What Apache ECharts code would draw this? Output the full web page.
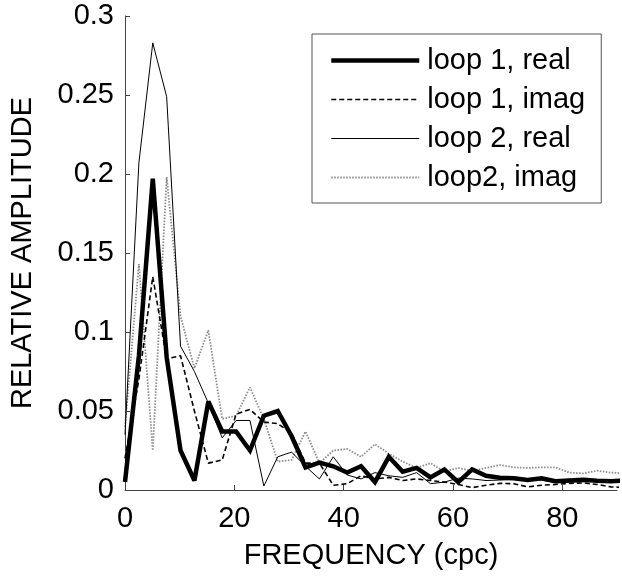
<!DOCTYPE html>
<html>
<head>
<meta charset="utf-8">
<script src="https://cdn.jsdelivr.net/npm/echarts@6/dist/echarts.min.js"></script>
<style>
  html, body { margin: 0; padding: 0; background: #fff; }
  #chart { width: 622px; height: 578px; }
</style>
</head>
<body>
<div id="chart"></div>
<script>
// Frequencies (cpc) of the sampled harmonics
const freq = [0, 2.54, 5.08, 7.62, 10.16, 12.7, 15.24, 17.78, 20.32, 22.86,
  25.4, 27.94, 30.48, 33.02, 35.56, 38.1, 40.64, 43.18, 45.72, 48.26,
  50.8, 53.34, 55.88, 58.42, 60.96, 63.5, 66.04, 68.58, 71.12, 73.66,
  76.2, 78.74, 81.28, 83.82, 86.36, 88.9, 91.44];

const loop1Real = [0.005, 0.085, 0.197, 0.084, 0.025, 0.006, 0.056, 0.037, 0.037, 0.025,
  0.047, 0.050, 0.034, 0.0143, 0.0173, 0.015, 0.011, 0.015, 0.005, 0.021,
  0.0116, 0.014, 0.008, 0.013, 0.005, 0.013, 0.009, 0.0078, 0.0075, 0.0063,
  0.0074, 0.0055, 0.006, 0.0065, 0.0059, 0.0055, 0.006];

const loop1Imag = [0.02, 0.07, 0.135, 0.083, 0.085, 0.05, 0.017, 0.019, 0.048, 0.051,
  0.043, 0.042, 0.036, 0.017, 0.017, 0.003, 0.004, 0.009, 0.007, 0.008,
  0.006, 0.007, 0.006, 0.005, 0.0035, 0.0015, 0.003, 0.0042, 0.004, 0.002,
  0.003, 0.0035, 0.0042, 0.0045, 0.0035, 0.002, 0.0015];

const loop2Real = [0.035, 0.207, 0.283, 0.249, 0.091, 0.075, 0.055, 0.033, 0.044, 0.044,
  0.0025, 0.021, 0.024, 0.015, 0.007, 0.021, 0.0095, 0.007, 0.011, 0.009,
  0.008, 0.011, 0.004, 0.005, 0.0075, 0.007, 0.006, 0.0063, 0.0068, 0.0065,
  0.0063, 0.0046, 0.005, 0.0053, 0.0057, 0.0055, 0.0053];

const loop2Imag = [0.04, 0.143, 0.025, 0.198, 0.11, 0.077, 0.101, 0.045, 0.047, 0.065,
  0.045, 0.018, 0.019, 0.037, 0.017, 0.025, 0.026, 0.021, 0.029, 0.023,
  0.018, 0.014, 0.017, 0.0116, 0.014, 0.012, 0.014, 0.0158, 0.0143, 0.014,
  0.0143, 0.0143, 0.011, 0.0105, 0.0122, 0.011, 0.0105];

const seriesNames = ['loop 1, real', 'loop 1, imag', 'loop 2, real', 'loop2, imag'];
const xTicks = [0, 20, 40, 60, 80];
const yTicks = [0, 0.05, 0.1, 0.15, 0.2, 0.25, 0.3];

const pairs = vals => vals.map((v, i) => [freq[i], v]);
const FONT = 'Liberation Sans, Arial, Helvetica, sans-serif';

const styles = [
  { color: '#000', width: 4.5, type: 'solid', join: 'miter', miterLimit: 3 },
  { color: '#000', width: 1.6, type: [5, 3] },
  { color: '#000', width: 1, type: 'solid' },
  { color: '#8a8a8a', width: 1.8, type: [1.5, 1.5] }
];
const dataSets = [loop1Real, loop1Imag, loop2Real, loop2Imag];

const chart = echarts.init(document.getElementById('chart'), null, { renderer: 'canvas' });
chart.setOption({
  backgroundColor: '#ffffff',
  animation: false,
  grid: { left: 123, right: 5, top: 16, bottom: 88, containLabel: false },
  legend: {
    orient: 'vertical',
    left: 312,
    top: 34,
    padding: [12, 16, 11, 17],
    itemWidth: 88,
    itemHeight: 12,
    itemGap: 10,
    backgroundColor: '#ffffff',
    borderColor: '#555',
    borderWidth: 1,
    borderRadius: 0,
    selectedMode: false,
    itemStyle: { opacity: 0 },
    data: seriesNames.map((n, i) => ({
      name: n,
      itemStyle: { opacity: 0, color: styles[i].color },
      lineStyle: { color: styles[i].color, width: styles[i].width, type: styles[i].type, opacity: 1 }
    })),
    textStyle: { fontFamily: FONT, fontSize: 29, color: '#000', padding: [0, 0, 0, 3] }
  },
  xAxis: {
    type: 'value',
    min: 0, max: 90, interval: 20,
    name: 'FREQUENCY (cpc)',
    nameLocation: 'middle',
    nameGap: 51,
    nameTextStyle: { fontFamily: FONT, fontSize: 29, color: '#000' },
    axisLine: { show: true, onZero: false, lineStyle: { color: '#444', width: 1 } },
    axisTick: { show: true, inside: true, length: 5, customValues: xTicks, lineStyle: { color: '#444' } },
    axisLabel: { fontFamily: FONT, fontSize: 29, color: '#000', margin: 14, customValues: xTicks },
    splitLine: { show: false }
  },
  yAxis: {
    type: 'value',
    min: 0, max: 0.3, interval: 0.05,
    name: 'RELATIVE AMPLITUDE',
    nameLocation: 'middle',
    nameRotate: 90,
    nameGap: 88,
    nameTextStyle: { fontFamily: FONT, fontSize: 29, color: '#000' },
    axisLine: { show: true, lineStyle: { color: '#444', width: 1 } },
    axisTick: { show: true, inside: true, length: 5, customValues: yTicks, lineStyle: { color: '#444' } },
    axisLabel: { fontFamily: FONT, fontSize: 29, color: '#000', margin: 11, customValues: yTicks },
    splitLine: { show: false }
  },
  series: dataSets.map((d, i) => ({
    name: seriesNames[i], type: 'line', data: pairs(d),
    symbol: 'none', showSymbol: false, clip: true, z: 5 - i,
    itemStyle: { color: styles[i].color },
    lineStyle: styles[i]
  }))
});
</script>
</body>
</html>
